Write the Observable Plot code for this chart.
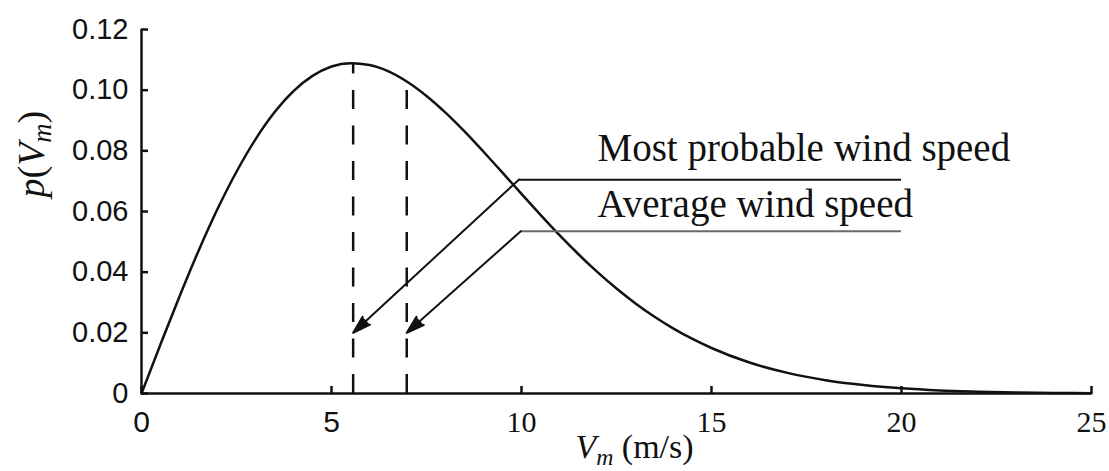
<!DOCTYPE html>
<html>
<head>
<meta charset="utf-8">
<script src="https://cdn.jsdelivr.net/npm/d3@7"></script>
<script src="https://cdn.jsdelivr.net/npm/@observablehq/plot@0.6"></script>
<style>
  html, body { margin: 0; padding: 0; background: #fff; }
</style>
</head>
<body>
<div id="chart"></div>
<script>
// Wind speed V_m (m/s) and its probability density p(V_m)
const windSpeed = [0, 0.5, 1, 1.5, 2, 2.5, 3, 3.5, 4, 4.5, 5, 5.5, 6, 6.5, 7, 7.5, 8, 8.5, 9, 9.5,
  10, 10.5, 11, 11.5, 12, 12.5, 13, 13.5, 14, 14.5, 15, 16, 17, 18, 19, 20, 21, 22, 23, 24, 25];
const density = [0, 0.0162, 0.0320, 0.0470, 0.0608, 0.0731, 0.0838, 0.0927, 0.0997, 0.1047, 0.1078,
  0.1089, 0.1083, 0.1062, 0.1027, 0.0981, 0.0926, 0.0864, 0.0797, 0.0728,
  0.0658, 0.0589, 0.0522, 0.0459, 0.0400, 0.0346, 0.0297, 0.0253, 0.0214, 0.0180,
  0.0150, 0.0102, 0.0068, 0.0044, 0.0028, 0.0017, 0.0010, 0.0006, 0.0003, 0.0002, 0.0001];

// Characteristic speeds marked by dashed rules
const markerNames = ["Most probable wind speed", "Average wind speed"];
const markerSpeed = [5.57, 6.98];
const markerDensity = [0.1089, 0.1026];

// Leader lines: horizontal level, elbow speed, far end, arrow tip level
const leaderLevel = [0.0705, 0.0535];
const leaderElbow = [9.93, 9.98];
const leaderEnd = [20, 20];
const arrowTip = [0.02, 0.02];
const leaderColor = ["#111111", "#6a6a6a"];
// Label anchors (start of text, baseline)
const labelSpeed = [12.0, 12.0];
const labelLevel = [0.0768, 0.0583];

// Axis ticks
const xTicks = [0, 5, 10, 15, 20, 25];
const yTicks = [0, 0.02, 0.04, 0.06, 0.08, 0.10, 0.12];

const curve = windSpeed.map((v, i) => ({v, p: density[i]}));
const markers = markerNames.map((name, i) => ({
  name,
  speed: markerSpeed[i],
  peak: markerDensity[i],
  level: leaderLevel[i],
  elbow: leaderElbow[i],
  end: leaderEnd[i],
  tip: arrowTip[i],
  color: leaderColor[i],
  labelX: labelSpeed[i],
  labelY: labelLevel[i]
}));

const xTitle = "V_m (m/s)";
const yTitle = "p(V_m)";

const serif = "'Liberation Serif', 'Times New Roman', serif";
const sans = "'Liberation Sans', Arial, sans-serif";
const ink = "#111";

const plot = Plot.plot({
  width: 1109,
  height: 471,
  marginLeft: 141,
  marginRight: 18,
  marginTop: 29,
  marginBottom: 78,
  style: {background: "#fff", color: ink},
  x: {domain: [0, 25]},
  y: {domain: [0, 0.12]},
  marks: [
    // inward-pointing ticks and labels
    Plot.axisY(yTicks, {
      tickSize: -7, tickPadding: 20, strokeWidth: 2.5, label: null,
      tickFormat: d => d === 0 ? "0" : d.toFixed(2),
      fontSize: 29, fontFamily: sans
    }),
    Plot.axisX(xTicks.slice(0, 2), {
      tickSize: -7, tickPadding: 24, strokeWidth: 2.5, label: null,
      fontSize: 30, fontFamily: sans
    }),
    Plot.axisX(xTicks.slice(2), {
      tickSize: -7, tickPadding: 24, strokeWidth: 2.5, label: null,
      fontSize: 30, fontFamily: serif
    }),
    // left and bottom axis lines
    Plot.ruleX([0], {strokeWidth: 2.5, stroke: ink}),
    Plot.ruleY([0], {strokeWidth: 2.5, stroke: ink}),
    // dashed rules at the characteristic speeds
    Plot.ruleX(markers, {
      x: "speed", y1: 0, y2: "peak",
      stroke: ink, strokeWidth: 2.5, strokeDasharray: "19,16.5"
    }),
    // density curve
    Plot.line(curve, {x: "v", y: "p", curve: "monotone-x", stroke: ink, strokeWidth: 2.5}),
    // annotation leaders
    Plot.ruleY(markers, {y: "level", x1: "elbow", x2: "end", stroke: "color", strokeWidth: 2}),
    Plot.arrow(markers, {
      x1: "elbow", y1: "level", x2: "speed", y2: "tip",
      stroke: ink, fill: ink, strokeWidth: 2, headAngle: 34, headLength: 14
    }),
    Plot.text(markers, {
      x: "labelX", y: "labelY", text: "name",
      textAnchor: "start", lineAnchor: "bottom",
      fontSize: 39, fontFamily: serif, fill: ink
    }),
    // axis titles (rich text filled in below)
    Plot.text([xTitle], {
      frameAnchor: "bottom", dx: 18, dy: 64, lineAnchor: "bottom",
      fontSize: 34, fontFamily: serif, fill: ink
    }),
    Plot.text([yTitle], {
      frameAnchor: "left", dx: -110, dy: -14, rotate: -90,
      fontSize: 38, fontFamily: serif, fill: ink
    })
  ]
});

// Replace plain titles with italic symbols and subscripts
const NS = "http://www.w3.org/2000/svg";
function richText(plain, parts) {
  const t = Array.from(plot.querySelectorAll("text")).find(e => e.textContent === plain);
  if (!t) return;
  t.textContent = "";
  for (const part of parts) {
    const s = document.createElementNS(NS, "tspan");
    s.textContent = part.text;
    if (part.italic) s.setAttribute("font-style", "italic");
    if (part.size) s.setAttribute("font-size", part.size);
    if (part.dy) s.setAttribute("dy", part.dy);
    t.appendChild(s);
  }
}
richText(xTitle, [
  {text: "V", italic: true},
  {text: "m", italic: true, size: "0.7em", dy: 7},
  {text: " (m/s)", dy: -7}
]);
richText(yTitle, [
  {text: "p", italic: true},
  {text: "("},
  {text: "V", italic: true},
  {text: "m", italic: true, size: "0.7em", dy: 7},
  {text: ")", dy: -7}
]);

document.getElementById("chart").appendChild(plot);
</script>
</body>
</html>
